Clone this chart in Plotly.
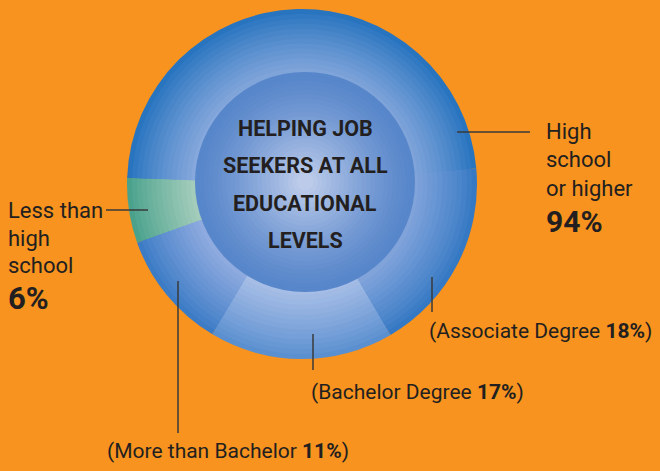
import plotly.graph_objects as go

# ---- data ----
categories = ["Less than high school", "More than Bachelor", "Bachelor Degree",
              "Associate Degree", "High school diploma"]
shares = [6, 11, 17, 18, 48]          # % of job seekers
high_school_or_higher = 94
title_lines = ["HELPING JOB", "SEEKERS AT ALL", "EDUCATIONAL", "LEVELS"]

# ---- style ----
W, H = 660, 471
BG = "#F7931E"
INK = "#231F20"
FONT = "Roboto, Liberation Sans, sans-serif"
CX, CY, R_OUT, R_IN = 302, 184, 175, 110
outer_cols = ["#4aa28c", "#3c7bc5", "#5a8fd0", "#3579c4", "#2874bf"]
inner_cols = ["#a3ccbb", "#8eaadf", "#a6bde6", "#86a6dc", "#86a8dc"]


def hex2rgb(h):
    h = h.lstrip("#")
    return [int(h[i:i + 2], 16) for i in (0, 2, 4)]


def mix(a, b, t):
    ca, cb = hex2rgb(a), hex2rgb(b)
    return "rgb(%d,%d,%d)" % tuple(round(ca[i] + (cb[i] - ca[i]) * t) for i in range(3))


def px_domain(cx, cy, r):
    return dict(x=[(cx - r) / W, (cx + r) / W], y=[1 - (cy + r) / H, 1 - (cy - r) / H])


fig = go.Figure()
N = 14
for k in range(N):
    t = k / (N - 1)
    r = R_OUT - (R_OUT - R_IN + 4) * k / N
    fig.add_trace(go.Pie(
        labels=categories, values=shares, sort=False, direction="counterclockwise",
        rotation=250.4, textinfo="none", hoverinfo="label+value", showlegend=False,
        marker=dict(colors=[mix(o, i, t ** 0.9) for o, i in zip(outer_cols, inner_cols)],
                    line=dict(width=0)),
        domain=px_domain(CX, CY, r),
    ))

shapes = []
# centre disc with radial gradient
ICX, ICY = 305, 182
M = 24
for k in range(M):
    t = k / (M - 1)
    r = R_IN - (R_IN - 4) * k / M
    shapes.append(dict(type="circle", xref="paper", yref="paper", layer="above",
                       x0=(ICX - r) / W, x1=(ICX + r) / W,
                       y0=1 - (ICY + r) / H, y1=1 - (ICY - r) / H,
                       fillcolor=mix("#5786ca", "#bccbea", t ** 1.3), line=dict(width=0)))

# leader lines
LINE = dict(color="#3a3a3a", width=1.5)
leaders = [(457, 132, 530, 132), (106, 210, 148, 210), (432, 277, 432, 312),
           (313, 334, 313, 370), (178, 281, 178, 433)]
for x0, y0, x1, y1 in leaders:
    shapes.append(dict(type="line", xref="paper", yref="paper", layer="above",
                       x0=x0 / W, x1=x1 / W, y0=1 - y0 / H, y1=1 - y1 / H, line=LINE))

ann = []


def txt(x, y, s, size, anchor="left"):
    ann.append(dict(x=x / W, y=1 - y / H, xref="paper", yref="paper", text=s,
                    showarrow=False, xanchor=anchor, yanchor="middle",
                    font=dict(family=FONT, size=size, color=INK)))


# centre title
for s, y in zip(title_lines, [129, 165.5, 203.5, 240]):
    txt(305, y, "<b>%s</b>" % s, 21.5, anchor="center")

# left label
txt(6, 210, "Less than", 22)
txt(6, 238.5, "high", 22)
txt(6, 265.5, "school", 22)
txt(6, 298.5, "<b>%d%%</b>" % shares[0], 31)

# right label
txt(544, 132, "High", 22)
txt(544, 159.5, "school", 22)
txt(544, 188.5, "or higher", 22)
txt(544, 221, "<b>%d%%</b>" % high_school_or_higher, 30)

# bracket labels
txt(427, 330.5, "(Associate Degree <b>%d%%</b>)" % shares[3], 21)
txt(309, 391.5, "(Bachelor Degree <b>%d%%</b>)" % shares[2], 21)
txt(105, 450.5, "(More than Bachelor <b>%d%%</b>)" % shares[1], 21)

fig.update_layout(width=W, height=H, margin=dict(l=0, r=0, t=0, b=0),
                  paper_bgcolor=BG, plot_bgcolor=BG, shapes=shapes, annotations=ann,
                  showlegend=False)
fig.write_html("out.html")
